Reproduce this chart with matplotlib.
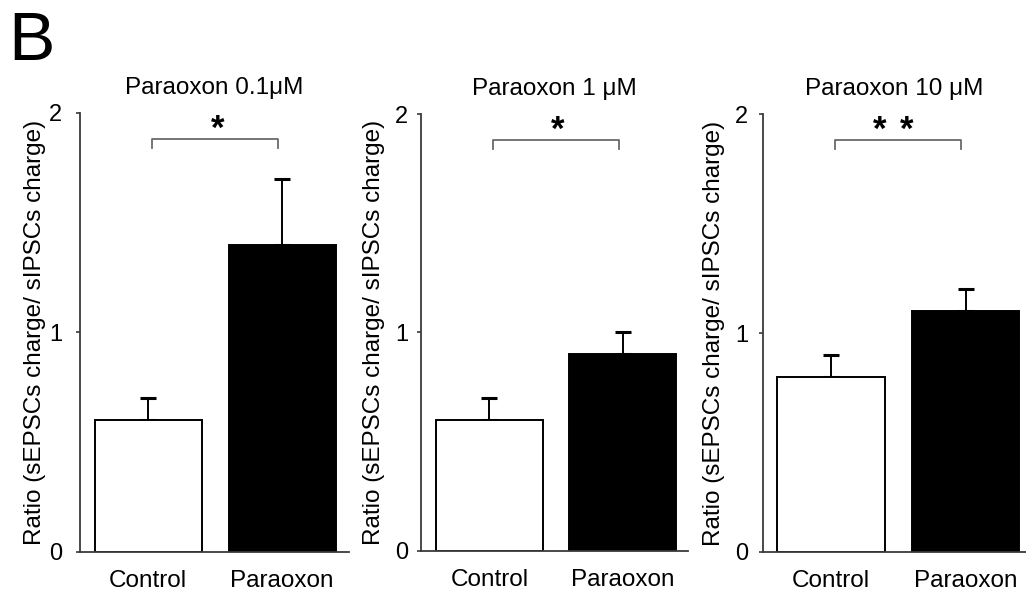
import matplotlib
matplotlib.use("Agg")
import matplotlib.pyplot as plt

plt.rcParams['font.family'] = ['Liberation Sans', 'DejaVu Sans']

groups = ['Control', 'Paraoxon']
titles = ['Paraoxon 0.1\u03bcM', 'Paraoxon 1 \u03bcM', 'Paraoxon 10 \u03bcM']
means = [[0.6, 1.4], [0.6, 0.9], [0.8, 1.1]]
errs = [[0.1, 0.3], [0.1, 0.1], [0.1, 0.1]]
stars = [[0.52], [0.51], [0.36, 0.565]]
ylabel = 'Ratio (sEPSCs charge/ sIPSCs charge)'

# panel boxes in figure fractions, x limits, label offsets
boxes = [[0.078, 0.08, 0.2622, 0.7317],
         [0.4103, 0.0817, 0.2602, 0.7283],
         [0.7437, 0.08, 0.2563, 0.73]]
xlims = [(-0.51, 1.50), (-0.513, 1.49), (-0.506, 1.45)]
ypads = [10, 6, 7.5]
labx = [-0.128, -0.133, -0.143]

fig = plt.figure(figsize=(10.26, 6), dpi=100)
fig.text(0.008, 0.90, 'B', fontsize=50, ha='left', va='baseline')

axcol = '#3a3a3a'
for i in range(3):
    ax = fig.add_axes(boxes[i])
    x = [0, 1]
    ax.bar(x, means[i], width=0.8, color=['white', 'black'],
           edgecolor='black', linewidth=1.4, zorder=2)
    ax.errorbar(x, means[i], yerr=[[0, 0], errs[i]], fmt='none',
                ecolor='black', elinewidth=1.4, capsize=6, capthick=2.2, zorder=1)
    # significance bracket
    ax.plot([0.03, 0.03, 0.97, 0.97], [1.84, 1.88, 1.88, 1.84],
            color='#6a6a6a', linewidth=1.3, clip_on=False)
    for sx in stars[i]:
        ax.text(sx, 1.85, '*', fontsize=25, fontweight='bold',
                ha='center', va='bottom')
    ax.set_xlim(*xlims[i])
    ax.set_ylim(0, 2)
    ax.set_yticks([0, 1, 2])
    ax.set_xticks(x)
    ax.set_xticklabels(groups, fontsize=17.5)
    ax.tick_params(axis='x', length=0, pad=13)
    ax.tick_params(axis='y', length=3, width=1.2, color=axcol,
                   labelsize=17, pad=ypads[i], direction='out')
    for s in ['top', 'right']:
        ax.spines[s].set_visible(False)
    for s in ['left', 'bottom']:
        ax.spines[s].set_color(axcol)
        ax.spines[s].set_linewidth(1.3)
    ax.set_ylabel(ylabel, fontsize=17.5)
    ax.yaxis.set_label_coords(labx[i], 0.5)
    ax.set_title(titles[i], fontsize=17.5, pad=14)

fig.savefig('out.png', dpi=100)
